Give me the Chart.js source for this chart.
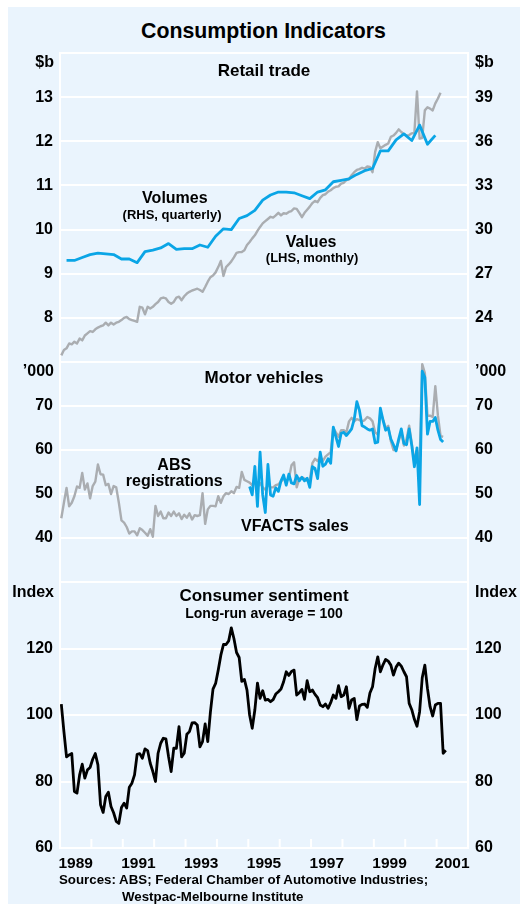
<!DOCTYPE html>
<html>
<head>
<meta charset="utf-8">
<script src="https://cdn.jsdelivr.net/npm/chart.js@4.4.0/dist/chart.umd.min.js"></script>
<style>
  html, body { margin: 0; padding: 0; background: #fff; }
  #frame { position: absolute; left: 8px; top: 7px; width: 512px; height: 897px; background: #EAF4FD; }
  canvas { position: absolute; left: 0; top: 0; }
  .txt { position: absolute; font-family: 'Liberation Sans', Arial, Helvetica, sans-serif; font-weight: bold; color: #000; white-space: nowrap; line-height: 1; }
</style>
</head>
<body>
<div id="frame"></div>
<div class="txt" style="left:263.5px; top:31.5px; font-size:21.3px; transform:translate(-50%,-50%);">Consumption Indicators</div>
<canvas id="retail" width="520" height="904"></canvas>
<canvas id="motor" width="520" height="904"></canvas>
<canvas id="sentiment" width="520" height="904"></canvas>
<div class="txt" style="left:59px; top:880px; font-size:13.3px; transform:translateY(-50%);">Sources: ABS; Federal Chamber of Automotive Industries;</div>
<div class="txt" style="left:122px; top:897px; font-size:13.3px; transform:translateY(-50%);">Westpac-Melbourne Institute</div>

<script>
// ===== Data =====
// Retail trade values, $b, monthly from Jan 1989 (LHS)
const retailValues = [
  7.15, 7.27, 7.31, 7.42, 7.4, 7.46, 7.42, 7.53, 7.49, 7.6,
  7.65, 7.7, 7.68, 7.74, 7.78, 7.81, 7.83, 7.89, 7.83, 7.89,
  7.85, 7.89, 7.91, 7.95, 8.0, 8.02, 7.97, 7.95, 7.93, 7.91,
  8.25, 8.23, 8.08, 8.25, 8.21, 8.25, 8.31, 8.36, 8.44, 8.46,
  8.44, 8.36, 8.32, 8.36, 8.46, 8.48, 8.4, 8.49, 8.55, 8.59,
  8.62, 8.64, 8.66, 8.63, 8.59, 8.7, 8.82, 8.92, 8.96, 9.03,
  9.15, 9.29, 8.95, 9.15, 9.21, 9.28, 9.37, 9.47, 9.49, 9.49,
  9.53, 9.65, 9.72, 9.8, 9.87, 9.97, 10.06, 10.14, 10.19, 10.24,
  10.29, 10.27, 10.32, 10.38, 10.32, 10.37, 10.36, 10.4, 10.42, 10.48,
  10.47, 10.38, 10.28, 10.38, 10.45, 10.52, 10.6, 10.65, 10.62, 10.72,
  10.78, 10.8, 10.86, 10.89, 10.94, 10.97, 10.98, 11.04, 11.06, 11.12,
  11.14, 11.23, 11.3, 11.35, 11.37, 11.4, 11.38, 11.43, 11.42, 11.3,
  11.76, 11.98, 11.84, 11.88, 11.92, 11.95, 12.1, 12.13, 12.19, 12.27,
  12.21, 12.16, 12.13, 12.14, 12.18, 12.19, 13.13, 12.06, 12.08, 12.7,
  12.77, 12.74, 12.7, 12.86, 12.97, 13.1
];
// Retail trade volumes, $b, quarterly from Mar qtr 1989 (RHS)
const retailVolumes = [
  27.9, 27.9, 28.1, 28.3, 28.4, 28.35, 28.3, 28.0, 28.0, 27.75,
  28.5, 28.6, 28.75, 29.05, 28.65, 28.7, 28.7, 28.95, 28.8, 29.55,
  30.05, 30.0, 30.75, 30.95, 31.3, 32.0, 32.35, 32.55, 32.55, 32.5,
  32.3, 32.1, 32.55, 32.7, 33.25, 33.35, 33.45, 33.75, 34.0, 34.15,
  35.35, 35.35, 36.1, 36.5, 36.05, 37.1, 35.8, 36.4
];
// ABS motor vehicle registrations, '000, monthly from Jan 1989
const absRegistrations = [
  44.5, 48, 51.4, 47.2, 48, 49.5, 51.7, 51.4, 54.8, 51,
  52.4, 49, 51.8, 52.8, 56.7, 54.5, 54.4, 52, 52.3, 50,
  51.8, 51.5, 48, 44, 43.5, 42.5, 41, 41.5, 41.5, 40.6,
  42.2, 41.8, 41.2, 40.5, 42, 40.3, 47.3, 45, 46, 44.5,
  44.5, 45.8, 45, 46, 45, 45.6, 44.3, 45.3, 44.6, 45.6,
  44.2, 45.2, 45, 45.2, 50.2, 43.2, 46.5, 47.3, 47.3, 47.2,
  49.5, 48, 49.5, 50.2, 50, 50.6, 50.2, 51.6, 51.4, 55,
  53.2, 52.9,
  52.6, 52, 53.5, 51.5, 52.5, 51.5, 51, 52, 51.5, 51.5,
  52, 52.2, 52.8, 53.5, 53, 53.5, 56.5, 57.2, 51.5, 53.5,
  53.8, 53.5, 53, 53.2, 57, 58, 57.5, 58.5, 57.5, 58.5,
  59, 59.5, 65, 64, 63, 64.5, 64.5, 64, 66.5, 67.3,
  66.5, 67, 66.8, 66.5, 66.8, 67.5, 67.2, 66.5, 64, 63.5,
  68.5, 67, 65, 65.5, 62, 60, 60, 62, 64, 61,
  62.5, 65.5, 61.5, 57.5, 60, 57, 79.5, 77.5, 67.8, 67.8,
  67.5, 74.5, 67.8, 63.2, 63
];
// VFACTS sales, '000, monthly from Jan 1995
const vfactsSales = [
  51.7, 49.8, 56.3, 47.2, 59.5, 49.8, 45.8, 56.7, 49.8, 49.5,
  51.4, 50.6, 53, 54.3, 52, 54.5, 52.5, 52.3, 54.2, 53,
  53.8, 53, 53.6, 51.5, 56.2, 55.8, 53.5, 59.5, 56.3, 56.8,
  58, 57, 65.2, 63, 60.8, 63.8, 64, 63.3, 64, 64.8,
  67, 71, 69, 65.5, 65.2, 64.8, 64.5, 64.8, 61.6, 61.8,
  69.5, 66.8, 64.5, 65, 62.5, 61.2, 59.8, 62.5, 64.8, 61.5,
  61.2, 64.8, 61, 56.2, 60.5, 47.6, 77.9, 76.5, 63.6, 66.5,
  66.5, 67.4, 64.5, 62.4, 61.8
];
// Consumer sentiment index, monthly from Jan 1989
const sentiment = [
  103.3, 95, 87.4, 88, 88.4, 77, 76.5, 82, 85.2, 81,
  83.5, 84.2, 86.7, 88.4, 85, 73, 70.7, 75.5, 76.8, 72.5,
  70.6, 68, 67.4, 72.2, 73.5, 72, 78.3, 79.5, 82, 88.2,
  88.4, 87, 89.8, 89.3, 85.5, 83, 80, 88.5, 91.5, 93,
  92.8, 87.5, 83, 90, 90, 96.5, 87.4, 88.5, 94.2, 95,
  97.6, 97.7, 97, 90.4, 92, 97.3, 92, 100.8, 107.8, 109.5,
  113.5, 118, 121.2, 121.2, 122.3, 126.2, 123, 118.8, 117.3, 110.1,
  110.7, 107.5, 100, 96, 101.5, 109.6, 105, 107.3, 104.5, 104.7,
  104, 104.6, 106.3, 107, 107.8, 110, 113, 111.9, 113.1, 113.5,
  106, 106.7, 107.7, 104.7, 110.3, 107, 107.5, 106.2, 105.2, 103,
  102.5, 103.3, 102, 103.7, 106, 105, 108.8, 105.5, 106, 108.5,
  102, 104.5, 105, 98.6, 102.7, 103.2, 103.3, 102.3, 106.6, 108.5,
  114, 117.5, 113, 115.1, 116.7, 116.2, 115, 112, 114.4, 115.6,
  114.7, 113, 111.5, 103.5, 101.6, 98.7, 96.6, 101, 111.2, 115,
  108, 102.5, 99.7, 103, 103.5, 103.5, 88.5, 89.4
];
const yearLabels = ['1989', '1991', '1993', '1995', '1997', '1999', '2001'];

// ===== Styles =====
const FONT = "'Liberation Sans', Arial, Helvetica, sans-serif";
const BLUE = '#0AA5E6';
const GREY = '#AAADB1';
const GRID = '#FFFFFF';

// monthly points sit mid-month, quarterly points on the last month of the quarter
const monthly = (start, arr) => arr.map((v, i) => ({ x: start + (i + 0.5) / 12, y: v }));
const quarterly = (start, arr) => arr.map((v, k) => ({ x: start + (3 * k + 2.5) / 12, y: v }));

function yScale(position, min, max, step, showGrid, hidden) {
  return {
    type: 'linear', position, min, max,
    grid: { display: showGrid, color: GRID, lineWidth: 2, drawTicks: false },
    border: { display: true, color: GRID, width: 2 },
    ticks: {
      stepSize: step, padding: 7, color: '#000',
      font: { family: FONT, size: 16, weight: 'bold' },
      callback: v => hidden.includes(v) ? '' : String(v)
    },
    afterFit: s => { s.width = position === 'left' ? 60 : 52; }
  };
}

const hiddenX = { type: 'linear', min: 1989, max: 2002, display: false };

// text drawn inside/around the plot area
function labelsPlugin(items) {
  return {
    id: 'panelLabels',
    afterDatasetsDraw(chart) {
      const { ctx, chartArea, scales } = chart;
      ctx.save();
      ctx.fillStyle = '#000';
      ctx.textBaseline = 'middle';
      items.forEach(it => {
        ctx.font = 'bold ' + it.size + 'px ' + FONT;
        let x, y;
        if (it.at) {
          ctx.textAlign = 'center';
          x = scales.x.getPixelForValue(it.at[0]);
          y = scales[it.axis].getPixelForValue(it.at[1]);
        } else {
          y = chartArea.top + it.dy;
          if (it.side === 'left') { ctx.textAlign = 'right'; x = chartArea.left - 6; }
          else if (it.side === 'right') { ctx.textAlign = 'left'; x = chartArea.right + 7; }
          else { ctx.textAlign = 'center'; x = (chartArea.left + chartArea.right) / 2; }
        }
        ctx.fillText(it.text, x, y);
      });
      ctx.restore();
    }
  };
}

// short white year marks along the bottom of the sentiment panel
const yearTicks = {
  id: 'yearTicks',
  beforeDatasetsDraw(chart) {
    const { ctx, chartArea, scales } = chart;
    ctx.save();
    ctx.strokeStyle = GRID;
    ctx.lineWidth = 2;
    for (let yr = 1990; yr <= 2001; yr++) {
      const x = scales.x.getPixelForValue(yr);
      ctx.beginPath();
      ctx.moveTo(x, chartArea.bottom);
      ctx.lineTo(x, chartArea.bottom - 9);
      ctx.stroke();
    }
    ctx.restore();
  }
};

const baseOptions = {
  responsive: false, animation: false, devicePixelRatio: 1, events: [],
  plugins: { legend: { display: false }, tooltip: { enabled: false } },
  elements: { point: { radius: 0 }, line: { tension: 0, borderJoinStyle: 'round' } }
};

// ===== Retail trade =====
new Chart(document.getElementById('retail'), {
  type: 'line',
  data: {
    datasets: [
      { data: quarterly(1989, retailVolumes), yAxisID: 'yR', borderColor: BLUE, borderWidth: 2.8, order: 0 },
      { data: monthly(1989, retailValues), yAxisID: 'yL', borderColor: GREY, borderWidth: 2.4, order: 1 }
    ]
  },
  options: {
    ...baseOptions,
    layout: { padding: { top: 53, bottom: 904 - 362, left: 0, right: 0 } },
    scales: {
      x: hiddenX,
      yL: yScale('left', 7, 14, 1, true, [7, 14]),
      yR: yScale('right', 21, 42, 3, false, [21, 42])
    }
  },
  plugins: [labelsPlugin([
    { text: 'Retail trade', size: 17, dy: 18.5 },
    { text: '$b', size: 16, dy: 10, side: 'left' },
    { text: '$b', size: 16, dy: 10, side: 'right' },
    { text: 'Volumes', size: 16, at: [1992.66, 10.71], axis: 'yL' },
    { text: '(RHS, quarterly)', size: 13, at: [1992.57, 10.33], axis: 'yL' },
    { text: 'Values', size: 16, at: [1997.0, 9.70], axis: 'yL' },
    { text: '(LHS, monthly)', size: 13, at: [1997.03, 9.35], axis: 'yL' }
  ])]
});

// ===== Motor vehicles =====
new Chart(document.getElementById('motor'), {
  type: 'line',
  data: {
    datasets: [
      { data: monthly(1995, vfactsSales), yAxisID: 'yL', borderColor: BLUE, borderWidth: 2.8, order: 0 },
      { data: monthly(1989, absRegistrations), yAxisID: 'yL', borderColor: GREY, borderWidth: 2.4, order: 1 }
    ]
  },
  options: {
    ...baseOptions,
    layout: { padding: { top: 362, bottom: 904 - 582, left: 0, right: 0 } },
    scales: {
      x: hiddenX,
      yL: yScale('left', 30, 80, 10, true, [30, 80]),
      yR: yScale('right', 30, 80, 10, false, [30, 80])
    }
  },
  plugins: [labelsPlugin([
    { text: 'Motor vehicles', size: 17, dy: 16.3 },
    { text: '\u2019000', size: 16, dy: 10, side: 'left' },
    { text: '\u2019000', size: 16, dy: 10, side: 'right' },
    { text: 'ABS', size: 16, at: [1992.64, 56.4], axis: 'yL' },
    { text: 'registrations', size: 16, at: [1992.64, 52.9], axis: 'yL' },
    { text: 'VFACTS sales', size: 16, at: [1996.48, 42.6], axis: 'yL' }
  ])]
});

// ===== Consumer sentiment =====
new Chart(document.getElementById('sentiment'), {
  type: 'line',
  data: {
    datasets: [
      { data: monthly(1989, sentiment), yAxisID: 'yL', borderColor: '#000', borderWidth: 2.8 }
    ]
  },
  options: {
    ...baseOptions,
    layout: { padding: { top: 582, bottom: 904 - 848 - 30, left: 0, right: 0 } },
    scales: {
      x: {
        type: 'linear', min: 1989, max: 2002,
        grid: { display: false, drawTicks: false },
        border: { display: false },
        afterBuildTicks: s => { s.ticks = yearLabels.map(y => ({ value: Number(y) + 0.5 })); },
        ticks: {
          autoSkip: false, maxRotation: 0, padding: 6, color: '#000',
          font: { family: FONT, size: 15.5, weight: 'bold' },
          callback: v => String(Math.floor(v))
        },
        afterFit: s => { s.height = 30; }
      },
      yL: yScale('left', 60, 140, 20, true, [140]),
      yR: yScale('right', 60, 140, 20, false, [140])
    }
  },
  plugins: [yearTicks, labelsPlugin([
    { text: 'Consumer sentiment', size: 17, dy: 14 },
    { text: 'Long-run average = 100', size: 14, dy: 32 },
    { text: 'Index', size: 16, dy: 11, side: 'left' },
    { text: 'Index', size: 16, dy: 11, side: 'right' }
  ])]
});
</script>
</body>
</html>
